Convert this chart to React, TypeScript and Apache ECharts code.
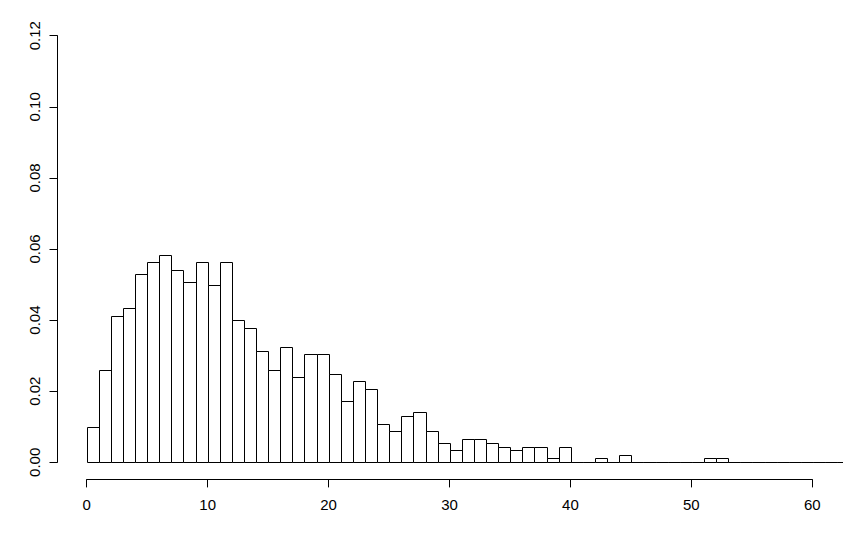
import React, { useEffect, useRef } from "react";
import * as echarts from "echarts";

// Histogram densities for bins [0,1), [1,2), ... (bin width 1)
const densities = [
  0.0098, 0.0259, 0.0411, 0.0433, 0.053, 0.0563, 0.0582, 0.054, 0.0507, 0.0563,
  0.0498, 0.0563, 0.04, 0.0377, 0.0312, 0.0259, 0.0323, 0.0239, 0.0304, 0.0304,
  0.0248, 0.0172, 0.0228, 0.0205, 0.0107, 0.0087, 0.0129, 0.0141, 0.0087, 0.0053,
  0.0034, 0.0065, 0.0065, 0.0053, 0.0042, 0.0034, 0.0042, 0.0042, 0.0011, 0.0042,
  0, 0, 0.0011, 0, 0.0022, 0, 0, 0, 0, 0,
  0, 0.0011, 0.0011, 0, 0, 0, 0, 0, 0, 0,
  0, 0, 0, 0,
];
const binWidth = 1;
const xTicks = [0, 10, 20, 30, 40, 50, 60];
const yTicks = [0, 0.02, 0.04, 0.06, 0.08, 0.1, 0.12];

const FONT = "Liberation Sans, Arial, sans-serif";

export default function App() {
  const ref = useRef<HTMLDivElement>(null);
  useEffect(() => {
    if (!ref.current) return;
    const chart = echarts.init(ref.current, null, { renderer: "svg" });
    const data = densities.map((d, i) => [i * binWidth, (i + 1) * binWidth, d]);
    const xMin = xTicks[0];
    const xMax = xTicks[xTicks.length - 1];
    const yMin = yTicks[0];
    const yMax = yTicks[yTicks.length - 1];
    const xPad = (xMax - xMin) * 0.04;
    const yPad = (yMax - yMin) * 0.04;
    const main = { left: 57.5, right: 19, top: 18.6, bottom: 57.6 };
    const hidden = {
      show: false,
    };
    chart.setOption({
      animation: false,
      backgroundColor: "#fff",
      grid: [
        { ...main },
        { left: 86.7, right: 48.7, top: main.top, bottom: main.bottom },
        { left: main.left, right: main.right, top: 35.7, bottom: 74.7 },
      ],
      xAxis: [
        { gridIndex: 0, type: "value", min: xMin - xPad, max: xMax + xPad, ...hidden },
        {
          gridIndex: 1,
          type: "value",
          min: xMin,
          max: xMax,
          interval: 10,
          position: "bottom",
          axisLine: { show: true, lineStyle: { color: "#000", width: 1 } },
          axisTick: { show: true, length: 8, lineStyle: { color: "#000", width: 1 } },
          axisLabel: { color: "#000", fontSize: 15, fontFamily: FONT, margin: 18, showMinLabel: true, showMaxLabel: true },
          splitLine: { show: false },
        },
        { gridIndex: 2, type: "value", min: 0, max: 1, ...hidden },
      ],
      yAxis: [
        { gridIndex: 0, type: "value", min: yMin - yPad, max: yMax + yPad, ...hidden },
        { gridIndex: 1, type: "value", min: 0, max: 1, ...hidden },
        {
          gridIndex: 2,
          type: "value",
          min: yMin,
          max: yMax,
          interval: 0.02,
          position: "left",
          axisLine: { show: true, lineStyle: { color: "#000", width: 1 } },
          axisTick: { show: true, length: 8, lineStyle: { color: "#000", width: 1 } },
          axisLabel: {
            color: "#000",
            fontSize: 15,
            fontFamily: FONT,
            rotate: 90,
            margin: 16,
            showMinLabel: true,
            showMaxLabel: true,
            formatter: (v: number) => v.toFixed(2),
          },
          splitLine: { show: false },
        },
      ],
      series: [
        {
          type: "custom",
          xAxisIndex: 0,
          yAxisIndex: 0,
          clip: true,
          encode: { x: [0, 1], y: 2 },
          data,
          renderItem: (params: any, api: any) => {
            const x0 = api.value(0);
            const x1 = api.value(1);
            const y = api.value(2);
            const pb = api.coord([x0, 0]);
            const pt = api.coord([x1, y]);
            const l = Math.round(pb[0]) + 0.5;
            const r = Math.round(pt[0]) + 0.5;
            const b = Math.round(pb[1]) + 0.5;
            const t = Math.round(pt[1]) + 0.5;
            return {
              type: "polygon",
              shape: { points: [[l, b], [l, t], [r, t], [r, b]] },
              style: { fill: "#fff", stroke: "#000", lineWidth: 1 },
            };
          },
        },
      ],
    });
    return () => chart.dispose();
  }, []);
  return (
    <div
      ref={ref}
      style={{ position: "fixed", left: 0, top: 0, width: 861, height: 537, background: "#fff" }}
    />
  );
}
